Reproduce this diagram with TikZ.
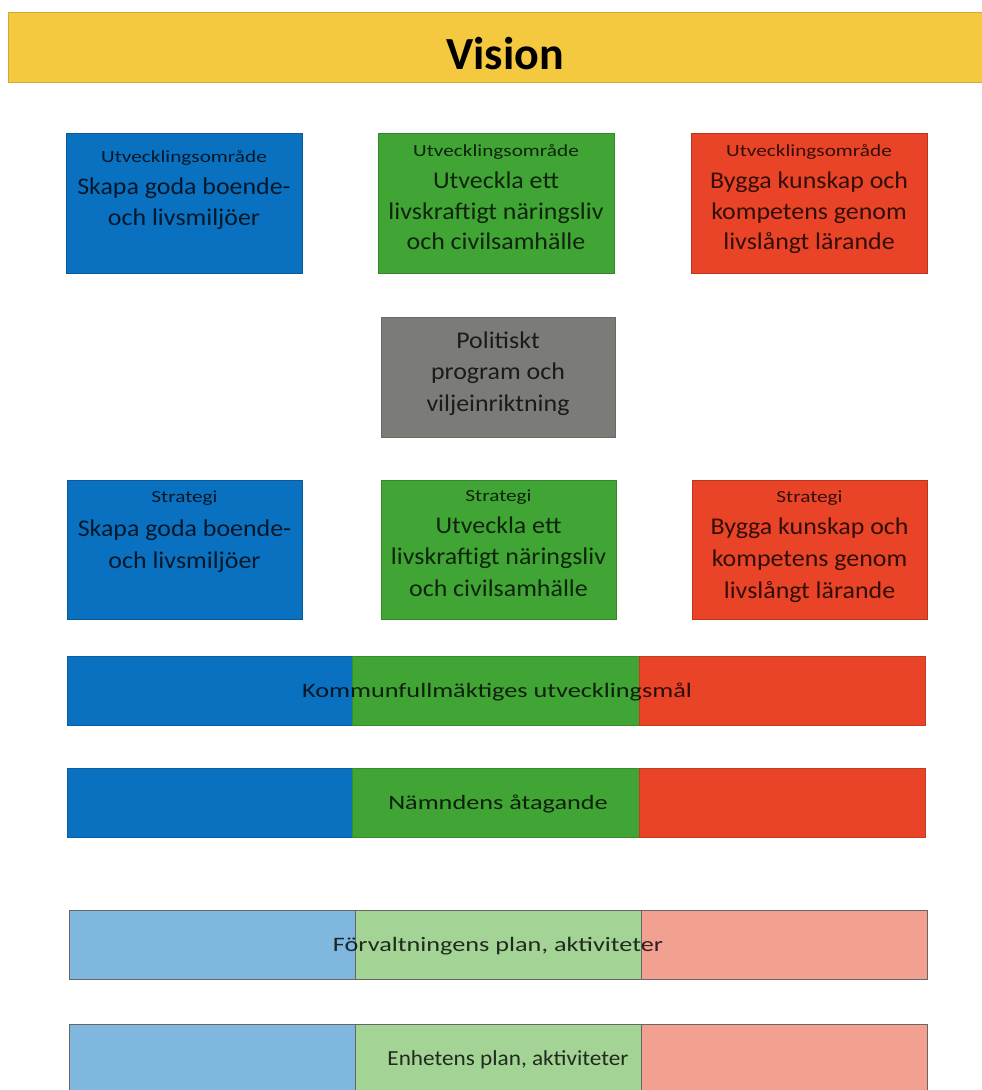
\documentclass[tikz,border=0pt]{standalone}
\usepackage{fontspec}
\setmainfont{Carlito}
\newfontfamily\fsmall[FakeStretch=1.25]{Carlito}
\newfontfamily\fbig[FakeStretch=1.08]{Carlito}
\newfontfamily\fbar[FakeStretch=1.28]{Carlito}
\definecolor{cyellow}{HTML}{F4C83F}
\definecolor{cblue}{HTML}{0A71C0}
\definecolor{cgreen}{HTML}{41A535}
\definecolor{cred}{HTML}{E94427}
\definecolor{cgray}{HTML}{7B7B77}
\definecolor{lblue}{HTML}{7FB7DF}
\definecolor{lgreen}{HTML}{A3D495}
\definecolor{lred}{HTML}{F2A090}
\tikzset{
  box/.style={rectangle, inner sep=0pt, outer sep=0pt, line width=0.6pt},
  small/.style={anchor=base, inner sep=0pt, text=black, text opacity=0.78, font=\fsmall\fontsize{17}{17}\selectfont},
  big/.style={anchor=base, inner sep=0pt, text=black, text opacity=0.78, font=\fbig\fontsize{24}{24}\selectfont},
  bartext/.style={anchor=base, inner sep=0pt, text=black, text opacity=0.8, font=\fbar\fontsize{20.5}{20.5}\selectfont},
}
\begin{document}
\begin{tikzpicture}[x=1pt,y=-1pt]
\useasboundingbox (0,0) rectangle (982,1090);
% Vision bar
\node[box, fill=cyellow, draw=cyellow!85!black, minimum width=980pt, minimum height=70pt] (vision) at (498,47) {};
\node[anchor=base, inner sep=0pt, font=\fontsize{46}{46}\selectfont\bfseries] (visiont) at (505,69) {Vision};
% Top row
\node[box, fill=cblue, draw=cblue!80!black, minimum width=236pt, minimum height=140pt] (u1) at (184,203) {};
\node[small] (u1a) at (184,162) {Utvecklingsområde};
\node[big] (u1b) at (184,194) {Skapa goda boende-};
\node[big] (u1c) at (184,225) {och livsmiljöer};
\node[box, fill=cgreen, draw=cgreen!80!black, minimum width=236pt, minimum height=140pt] (u2) at (496,203) {};
\node[small] (u2a) at (496,156) {Utvecklingsområde};
\node[big] (u2b) at (496,188) {Utveckla ett};
\node[big] (u2c) at (496,219) {livskraftigt näringsliv};
\node[big] (u2d) at (496,249) {och civilsamhälle};
\node[box, fill=cred, draw=cred!80!black, minimum width=236pt, minimum height=140pt] (u3) at (809,203) {};
\node[small] (u3a) at (809,156) {Utvecklingsområde};
\node[big] (u3b) at (809,188) {Bygga kunskap och};
\node[big] (u3c) at (809,219) {kompetens genom};
\node[big] (u3d) at (809,249) {livslångt lärande};
% Gray
\node[box, fill=cgray, draw=cgray!85!black, minimum width=234pt, minimum height=120pt] (pol) at (498,377) {};
\node[big] (pola) at (498,348) {Politiskt};
\node[big] (polb) at (498,379) {program och};
\node[big] (polc) at (498,411) {viljeinriktning};
% Strategy row
\node[box, fill=cblue, draw=cblue!80!black, minimum width=235pt, minimum height=139pt] (s1) at (184.5,549.5) {};
\node[small] (s1a) at (184.5,502) {Strategi};
\node[big] (s1b) at (184.5,536) {Skapa goda boende-};
\node[big] (s1c) at (184.5,568) {och livsmiljöer};
\node[box, fill=cgreen, draw=cgreen!80!black, minimum width=235pt, minimum height=139pt] (s2) at (498.5,549.5) {};
\node[small] (s2a) at (498.5,501) {Strategi};
\node[big] (s2b) at (498.5,533) {Utveckla ett};
\node[big] (s2c) at (498.5,564) {livskraftigt näringsliv};
\node[big] (s2d) at (498.5,596) {och civilsamhälle};
\node[box, fill=cred, draw=cred!80!black, minimum width=235pt, minimum height=139pt] (s3) at (809.5,549.5) {};
\node[small] (s3a) at (809.5,502) {Strategi};
\node[big] (s3b) at (809.5,534) {Bygga kunskap och};
\node[big] (s3c) at (809.5,566) {kompetens genom};
\node[big] (s3d) at (809.5,598) {livslångt lärande};
% Kommunfullmäktiges bar
\node[box, fill=cblue, draw=cblue!85!black, minimum width=285pt, minimum height=69pt] (k1) at (209.5,690.5) {};
\node[box, fill=cgreen, draw=cgreen!85!black, minimum width=287pt, minimum height=69pt] (k2) at (495.5,690.5) {};
\node[box, fill=cred, draw=cred!85!black, minimum width=286pt, minimum height=69pt] (k3) at (782,690.5) {};
\node[bartext] (kt) at (497,697) {Kommunfullmäktiges utvecklingsmål};
% Nämndens bar
\node[box, fill=cblue, draw=cblue!85!black, minimum width=285pt, minimum height=69pt] (n1) at (209.5,802.5) {};
\node[box, fill=cgreen, draw=cgreen!85!black, minimum width=287pt, minimum height=69pt] (n2) at (495.5,802.5) {};
\node[box, fill=cred, draw=cred!85!black, minimum width=286pt, minimum height=69pt] (n3) at (782,802.5) {};
\node[bartext] (nt) at (498,809) {Nämndens åtagande};
% Förvaltningens bar
\node[box, fill=lblue, draw=gray!80!black, minimum width=286pt, minimum height=69pt] (f1) at (212,944.5) {};
\node[box, fill=lgreen, draw=gray!80!black, minimum width=286pt, minimum height=69pt] (f2) at (498,944.5) {};
\node[box, fill=lred, draw=gray!80!black, minimum width=286pt, minimum height=69pt] (f3) at (784,944.5) {};
\node[bartext] (ft) at (498,951) {Förvaltningens plan, aktiviteter};
% Enhetens bar
\node[box, fill=lblue, draw=gray!80!black, minimum width=286pt, minimum height=80pt] (e1) at (212,1064) {};
\node[box, fill=lgreen, draw=gray!80!black, minimum width=286pt, minimum height=80pt] (e2) at (498,1064) {};
\node[box, fill=lred, draw=gray!80!black, minimum width=286pt, minimum height=80pt] (e3) at (784,1064) {};
\node[bartext, font=\fbig\fontsize{21.5}{21.5}\selectfont] (et) at (508,1065) {Enhetens plan, aktiviteter};
\end{tikzpicture}
\end{document}
